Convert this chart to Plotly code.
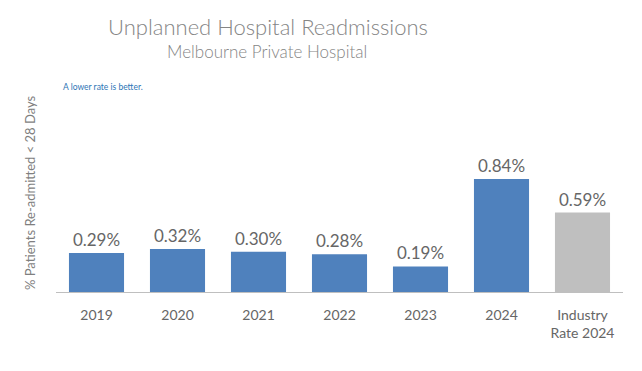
import plotly.graph_objects as go

categories = ["2019", "2020", "2021", "2022", "2023", "2024", "Industry<br>Rate 2024"]
values = [0.29, 0.32, 0.30, 0.28, 0.19, 0.84, 0.59]
labels = ["0.29%", "0.32%", "0.30%", "0.28%", "0.19%", "0.84%", "0.59%"]
colors = ["#4F81BD"] * 6 + ["#BFBFBF"]

W, H = 642, 371
L, R, T, B = 56, 19, 70, 79

def px_x(px):
    return (px - L) / (W - L - R)

def px_y(py):
    return (H - B - py) / (H - B - T)

fig = go.Figure(go.Bar(
    x=categories, y=values, marker_color=colors, marker_line_width=0,
    text=labels, textposition="outside", cliponaxis=False,
    textfont=dict(size=17, color="#666666", family="Lato"),
    width=0.68, hoverinfo="skip",
))

fig.update_layout(
    width=W, height=H,
    margin=dict(l=L, r=R, t=T, b=B, autoexpand=False),
    paper_bgcolor="white", plot_bgcolor="white",
    showlegend=False,
    font=dict(family="Lato", color="#666666"),
    xaxis=dict(showline=True, linecolor="#BFBFBF", linewidth=1, ticks="",
               automargin=False, ticklabelstandoff=10,
               tickfont=dict(size=14, color="#666666"), showgrid=False),
    yaxis=dict(range=[0, 1.65], visible=False, showgrid=False, zeroline=False,
               automargin=False),
    annotations=[
        dict(text="Unplanned Hospital Readmissions", xref="paper", yref="paper",
             x=px_x(268), y=px_y(27), xanchor="center", yanchor="middle", showarrow=False,
             font=dict(size=22, color="#858585", family="Lato", weight=300)),
        dict(text="Melbourne Private Hospital", xref="paper", yref="paper",
             x=px_x(267), y=px_y(52), xanchor="center", yanchor="middle", showarrow=False,
             font=dict(size=17, color="#858585", family="Lato", weight=300)),
        dict(text="A lower rate is better.", xref="paper", yref="paper",
             x=px_x(61), y=px_y(87), xanchor="left", yanchor="middle", showarrow=False,
             font=dict(size=8.5, color="#2E75B6", family="Lato")),
        dict(text="% Patients Re-admitted < 28 Days", xref="paper", yref="paper",
             x=px_x(30), y=px_y(193), xanchor="center", yanchor="middle", showarrow=False,
             textangle=-90, font=dict(size=13, color="#7F7F7F", family="Lato")),
    ],
)

fig.write_html("out.html", config={"displayModeBar": False},
               post_script="document.body.style.margin='0';document.body.style.overflow='hidden';")
